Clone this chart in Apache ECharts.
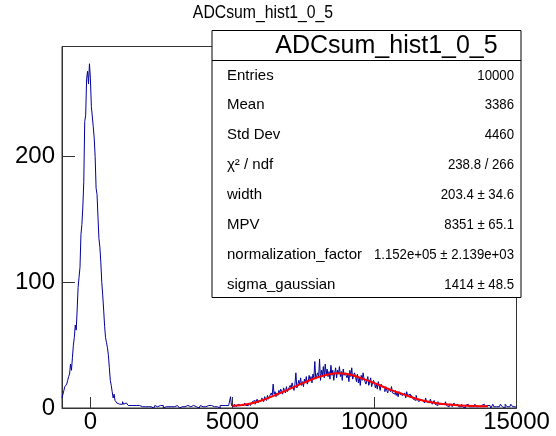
<!DOCTYPE html>
<html><head><meta charset="utf-8">
<script src="https://cdn.jsdelivr.net/npm/echarts@6/dist/echarts.min.js"></script>
<style>html,body{margin:0;padding:0;background:#fff}#c{width:556px;height:436px}</style>
</head><body><div id="c"></div>
<script>
// ---- data ----
const histTitle = 'ADCsum_hist1_0_5';
const binLow = -1000, binHigh = 15000, nBins = 480;
const yMax = 287.7;
const xTicks = [0, 5000, 10000, 15000];
const yTicks = [0, 100, 200];

// bins 0..61 (pedestal peak)
const peakCounts = [
  8,11,14,17,18,19,22,25,27,35,
  30,40,50,56,66,62,78,96,104,112,
  138,146,160,180,228,233,262,268,258,274,
  262,240,240,224,215,200,175,170,152,135,
  128,116,100,90,78,65,56,52,48,42,
  32,22,18,13,8,11,6,7,4,5,
  3,4
];
// bins 62..179 (flat tail)
const tailCounts = [
  4,3,5,3,2,4,3,3,2,3,2,
  3,1,2,3,1,2,2,
  1,2,1,3,1,2,1,1,2,0,1,2,1,1,2,1,0,1,2,1,
  1,1,0,2,1,1,2,0,1,1,1,2,1,0,1,1,2,1,1,0,
  1,2,1,1,0,1,1,2,1,1,0,1,2,1,1,1,0,1,2,1,
  1,1,2,1,0,1,2,1,1,1,2,1,1,0,2,1,1,2,1,1,
  1,2,1,1,2,1,0,2,1,2,1,1,2,1,2,2,1,3,9,2
];
// bins 180..479 (signal bump)
const bumpCounts = [
  2,1,3,2,1,2,3,2,2,1,
  3,2,1,4,2,3,2,3,4,2,
  3,5,4,6,3,5,7,4,6,5,
  6,8,7,5,9,8,6,10,7,9,
  9,12,10,19,11,13,9,12,10,14,
  12,15,13,11,16,14,12,17,13,15,
  15,18,16,20,17,14,19,28,16,18,
  22,19,24,18,21,17,23,20,25,19,
  21,26,22,25,20,27,24,37,23,26,
  28,24,39,22,30,26,33,24,35,27,
  31,25,29,23,34,26,30,22,28,32,
  24,30,27,33,25,29,22,31,26,28,
  29,24,27,21,30,25,32,23,26,28,
  25,21,27,20,24,18,26,22,28,23,
  23,19,22,25,18,21,24,17,20,22,
  20,16,19,15,21,18,14,19,17,16,
  16,13,17,14,12,16,15,13,17,12,
  13,11,14,10,12,9,13,11,12,10,
  11,9,12,8,13,10,9,11,8,10,
  9,7,8,6,10,7,8,5,7,6,
  6,5,7,4,8,5,6,4,5,7,
  5,3,4,6,3,4,2,5,3,4,
  3,2,4,3,2,5,2,3,1,3,
  2,3,1,2,4,2,1,3,2,1,
  2,1,3,1,2,0,2,1,3,2,
  1,2,1,0,2,1,3,1,2,1,
  1,0,2,1,1,3,1,0,2,1,
  1,2,1,0,1,3,1,2,1,1,
  2,1,1,3,2,1,2,0,3,2,
  1,2,1,1,3,2,1,2,1,0
];
// fit curve
const fitX = [5000,5500,6000,6500,7000,7500,8000,8500,8700,9000,9250,9500,10000,10500,11000,11500,12000,12500,13000,13500,14000];
const fitY = [1.7,2.9,5.8,10.2,15,20,24.5,27.3,27.6,27.2,25.8,24,19.8,15,11,7.2,4.6,2.9,2,1.5,1.3];

const statLabels = ['Entries','Mean','Std Dev','\u03C7\u00B2 / ndf','width','MPV','normalization_factor','sigma_gaussian'];
const statValues = ['10000','3386','4460','238.8 / 266','203.4 \u00B1 34.6','8351 \u00B1 65.1','1.152e+05 \u00B1 2.139e+03','1414 \u00B1 48.5'];

// ---- build ----
const counts = peakCounts.concat(tailCounts, bumpCounts);
const bw = (binHigh - binLow) / nBins;
const histData = counts.map((v, i) => [binLow + i * bw, v]);
histData.push([binHigh, counts[counts.length - 1]]);
const fitData = fitX.map((x, i) => [x, fitY[i]]);

const FONT = '"Liberation Sans", Arial, Helvetica, sans-serif';
const chart = echarts.init(document.getElementById('c'), null, {renderer: 'canvas'});

function txt(text, x, y, size, align, z, sx) {
  return {type: 'text', z: z, x: x, y: y, scaleX: sx || 1,
    style: {text: text, x: 0, y: 0, fontSize: size, fontFamily: FONT, fill: '#000',
      align: align, verticalAlign: 'middle', textAlign: align, textVerticalAlign: 'middle'}};
}

const graphics = [
  txt(histTitle, 263, 12.5, 19, 'center', 100, 0.83),
  {type: 'rect', z: 100, shape: {x: 212, y: 30.5, width: 309, height: 267}, style: {fill: '#fff', stroke: '#000', lineWidth: 1}},
  {type: 'line', z: 101, shape: {x1: 212, y1: 60.5, x2: 521, y2: 60.5}, style: {stroke: '#000', lineWidth: 1}},
  txt(histTitle, 386.5, 46, 25, 'center', 102, 1)
];
statLabels.forEach((lab, k) => {
  const y = 75.5 + k * 29.85;
  graphics.push(txt(lab, 227, y, 15, 'left', 102, 1));
  graphics.push(txt(statValues[k], 514, y, 15, 'right', 102, 0.88));
});

chart.setOption({
  animation: false,
  grid: {left: 62, right: 39.5, top: 46.5, bottom: 28, show: true, borderColor: '#333', borderWidth: 1, backgroundColor: 'transparent'},
  xAxis: {
    type: 'value', min: binLow, max: binHigh,
    axisLine: {show: true, onZero: false, lineStyle: {color: '#333'}},
    axisTick: {show: true, inside: true, length: 11, customValues: xTicks, lineStyle: {color: '#333'}},
    axisLabel: {customValues: xTicks, fontSize: 24, color: '#000', fontFamily: FONT, margin: 2, formatter: v => String(v)},
    splitLine: {show: false}
  },
  yAxis: {
    type: 'value', min: 0, max: yMax,
    axisLine: {show: true, onZero: false, lineStyle: {color: '#333'}},
    axisTick: {show: true, inside: true, length: 13, customValues: yTicks, lineStyle: {color: '#333'}},
    axisLabel: {customValues: yTicks, fontSize: 24, color: '#000', fontFamily: FONT, margin: 7, formatter: v => String(v)},
    splitLine: {show: false}
  },
  series: [
    {type: 'line', step: 'end', data: histData, showSymbol: false, symbol: 'none',
     lineStyle: {color: '#000099', width: 1}, z: 3},
    {type: 'line', smooth: 0.4, data: fitData, showSymbol: false, symbol: 'none',
     lineStyle: {color: '#ff0000', width: 2}, z: 4}
  ],
  graphic: graphics
});
</script></body></html>
